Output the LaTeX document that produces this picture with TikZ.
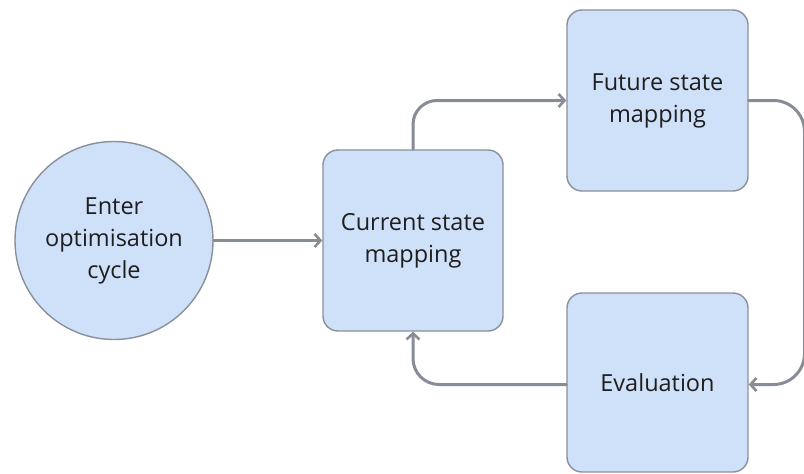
\documentclass[tikz,border=0pt]{standalone}
\usepackage{fontspec}
\setmainfont{Open Sans}
\usetikzlibrary{arrows.meta}
\definecolor{boxfill}{RGB}{206,225,249}
\definecolor{boxline}{RGB}{138,144,154}
\definecolor{flowline}{RGB}{135,141,151}
\definecolor{ink}{RGB}{30,30,30}
\tikzset{
  stagebox/.style={draw=boxline, line width=1.4pt, fill=boxfill, rounded corners=15pt,
    minimum width=180pt, minimum height=180pt, inner sep=0pt, align=center,
    text=ink, font=\fontsize{23.5}{32}\selectfont},
  startdisc/.style={draw=boxline, line width=1.4pt, fill=boxfill, circle,
    minimum size=198pt, inner sep=0pt, align=center,
    text=ink, font=\fontsize{23.5}{32}\selectfont},
  flow/.style={draw=flowline, line width=3pt, line cap=round,
    -{Straight Barb[length=6pt,width=13pt,line width=2.6pt]}},
}
\begin{document}
\begin{tikzpicture}[x=1pt,y=-1pt]
  \useasboundingbox (0,0) rectangle (804,474);
  % stages of the cycle
  \node[startdisc] (enter) at (114,240.5) {Enter\\optimisation\\cycle};
  \node[stagebox, minimum width=180pt, minimum height=181pt] (current) at (413,240.5) {Current state\\mapping};
  \node[stagebox, minimum width=181pt, minimum height=181pt] (future) at (657.5,100.5) {Future state\\mapping};
  \node[stagebox, minimum width=181pt, minimum height=179pt] (eval) at (657.5,382.5) {Evaluation};
  % return path along the right edge
  \coordinate (rtop) at (804.5,100.5);
  \coordinate (rbot) at (804.5,384.5);
  \coordinate (evalin) at (eval.east |- rbot);
  % connectors
  \draw[flow] (enter.east) -- (current.west);
  \draw[flow, rounded corners=24pt] (current.north) |- (future.west);
  \draw[flow, rounded corners=31pt] (future.east) -- (rtop) -- (rbot) -- (evalin);
  \draw[flow, rounded corners=26pt] (eval.west |- rbot) -| (current.south);
\end{tikzpicture}
\end{document}
